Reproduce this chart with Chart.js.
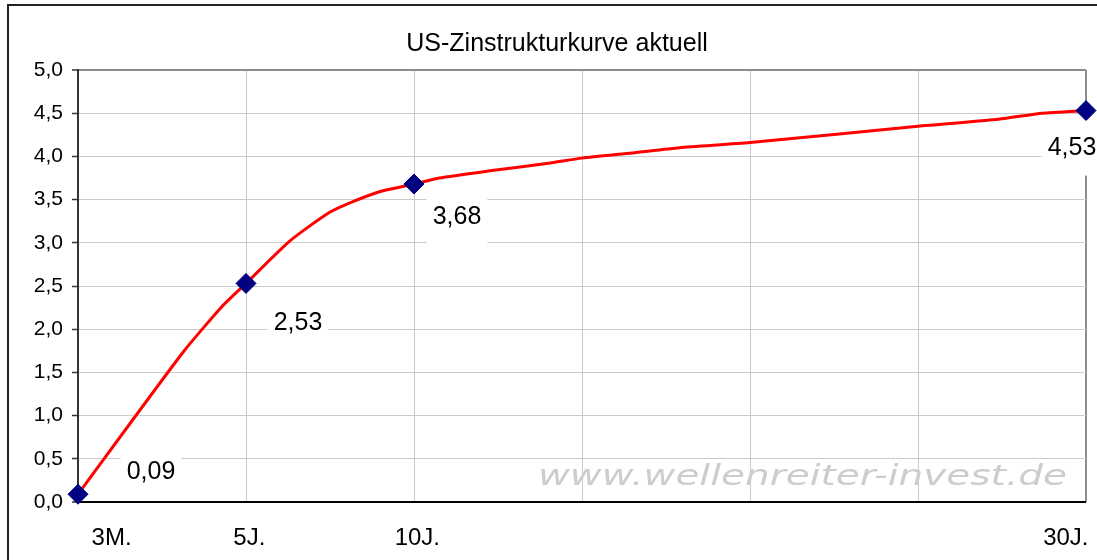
<!DOCTYPE html>
<html>
<head>
<meta charset="utf-8">
<script src="https://cdn.jsdelivr.net/npm/chart.js@4"></script>
<style>
body { margin: 0; background: #fff; }
</style>
</head>
<body>
<canvas id="chart" width="1097" height="560"></canvas>
<script>
// Laufzeit in Jahren (3M. liegt am Achsenanfang)
const curveX = [0, 3.12, 4.28, 5, 6.3, 7.48, 8.2, 9.05, 10, 10.75, 12.2, 14, 15, 16.5, 17.9, 20, 25, 27.4, 28.7, 30];
const curveY = [0.09, 1.73, 2.26, 2.53, 3.02, 3.35, 3.48, 3.60, 3.68, 3.75, 3.83, 3.92, 3.98, 4.04, 4.10, 4.16, 4.35, 4.43, 4.50, 4.53];

const pointX = [0, 5, 10, 30];
const pointY = [0.09, 2.53, 3.68, 4.53];
const pointLabels = ['0,09', '2,53', '3,68', '4,53'];

const xLabels = ['3M.', '5J.', '10J.', '30J.'];
const xLabelPos = [1, 5.1, 10.1, 29.4];

const chartTitle = 'US-Zinstrukturkurve aktuell';

// Verschiebung der Beschriftungen gegenüber den Punkten (px)
const labelOffsets = [[73, -23], [52, 39], [43, 32], [-14, 37]];

const FONT = '"Liberation Sans", Arial, sans-serif';

const framePlugin = {
    id: 'frame',
    beforeDraw(chart) {
        const ctx = chart.ctx;
        ctx.save();
        ctx.fillStyle = '#fff';
        ctx.fillRect(0, 0, chart.width, chart.height);
        ctx.strokeStyle = '#222';
        ctx.lineWidth = 2;
        ctx.strokeRect(8, 5, chart.width + 50, chart.height + 50);
        // Titel
        ctx.fillStyle = '#000';
        ctx.font = '25px ' + FONT;
        ctx.textAlign = 'center';
        ctx.textBaseline = 'alphabetic';
        ctx.fillText(chartTitle, 557, 51);
        ctx.restore();
    }
};

const watermarkPlugin = {
    id: 'watermark',
    beforeDatasetsDraw(chart) {
        const ctx = chart.ctx;
        const text = 'www.wellenreiter-invest.de';
        ctx.save();
        ctx.font = 'italic 29px "DejaVu Sans"';
        ctx.fillStyle = '#cdcdcd';
        ctx.textBaseline = 'middle';
        const w = ctx.measureText(text).width;
        ctx.translate(538, 477);
        ctx.scale(529 / w, 1);
        ctx.fillText(text, 0, 0);
        ctx.restore();
    }
};

const valueLabelPlugin = {
    id: 'valueLabels',
    afterDatasetsDraw(chart) {
        const ctx = chart.ctx;
        const meta = chart.getDatasetMeta(0);
        ctx.save();
        ctx.font = '25px ' + FONT;
        ctx.textAlign = 'center';
        ctx.textBaseline = 'middle';
        meta.data.forEach(function (pt, i) {
            const cx = pt.x + labelOffsets[i][0];
            const cy = pt.y + labelOffsets[i][1];
            const w = ctx.measureText(pointLabels[i]).width + 12;
            ctx.fillStyle = '#fff';
            ctx.fillRect(cx - w / 2, cy - 27, w, 55);
            ctx.fillStyle = '#000';
            ctx.fillText(pointLabels[i], cx, cy + 1);
        });
        ctx.restore();
    }
};

function noSidePadding(s) {
    s.paddingLeft = 0;
    s.paddingRight = 0;
}

const ctx = document.getElementById('chart').getContext('2d');

new Chart(ctx, {
    type: 'scatter',
    data: {
        datasets: [{
            label: 'Punkte',
            data: pointX.map((x, i) => ({ x: x, y: pointY[i] })),
            pointStyle: 'rectRot',
            pointRadius: 10,
            backgroundColor: '#000080',
            borderColor: '#000080',
            borderWidth: 1,
            showLine: false,
            clip: false
        }, {
            label: 'Zinskurve',
            data: curveX.map((x, i) => ({ x: x, y: curveY[i] })),
            showLine: true,
            borderColor: '#ff0000',
            borderWidth: 3,
            pointRadius: 0,
            tension: 0.2,
            fill: false
        }]
    },
    options: {
        responsive: false,
        animation: false,
        layout: { padding: { left: 0, right: 9, top: 70, bottom: 0 } },
        plugins: {
            legend: { display: false },
            tooltip: { enabled: false },
            title: { display: false }
        },
        scales: {
            x: {
                type: 'linear',
                position: 'bottom',
                min: 0,
                max: 30,
                ticks: { display: false, stepSize: 5 },
                border: { display: false },
                grid: {
                    drawTicks: false,
                    color: c => c.tick && c.tick.value === 30 ? '#8c8c8c' : '#cbcbcb',
                    lineWidth: c => c.tick && c.tick.value === 30 ? 2 : 1
                },
                afterFit: s => { s.height = 0; noSidePadding(s); }
            },
            xl: {
                type: 'linear',
                position: 'bottom',
                min: 0,
                max: 30,
                border: { display: false },
                grid: { display: false, drawTicks: false },
                afterBuildTicks: s => { s.ticks = xLabelPos.map(v => ({ value: v })); },
                ticks: {
                    autoSkip: false,
                    maxRotation: 0,
                    padding: 22,
                    color: '#000',
                    font: { family: FONT, size: 24 },
                    callback: (v, i) => xLabels[i]
                },
                afterFit: s => { s.height = 58; noSidePadding(s); }
            },
            y: {
                min: 0,
                max: 5,
                ticks: {
                    stepSize: 0.5,
                    padding: 9,
                    color: '#000',
                    font: { family: FONT, size: 21 },
                    callback: v => v.toFixed(1).replace('.', ',')
                },
                border: { color: '#333', width: 2 },
                grid: {
                    color: c => c.tick.value === 0 ? '#000' : (c.tick.value === 5 ? '#8c8c8c' : '#cbcbcb'),
                    lineWidth: c => (c.tick.value === 0 || c.tick.value === 5) ? 2 : 1,
                    tickColor: '#333',
                    tickLength: 6,
                    tickWidth: 1.5
                },
                afterFit: s => { s.width = 78; }
            }
        }
    },
    plugins: [framePlugin, watermarkPlugin, valueLabelPlugin]
});
</script>
</body>
</html>
